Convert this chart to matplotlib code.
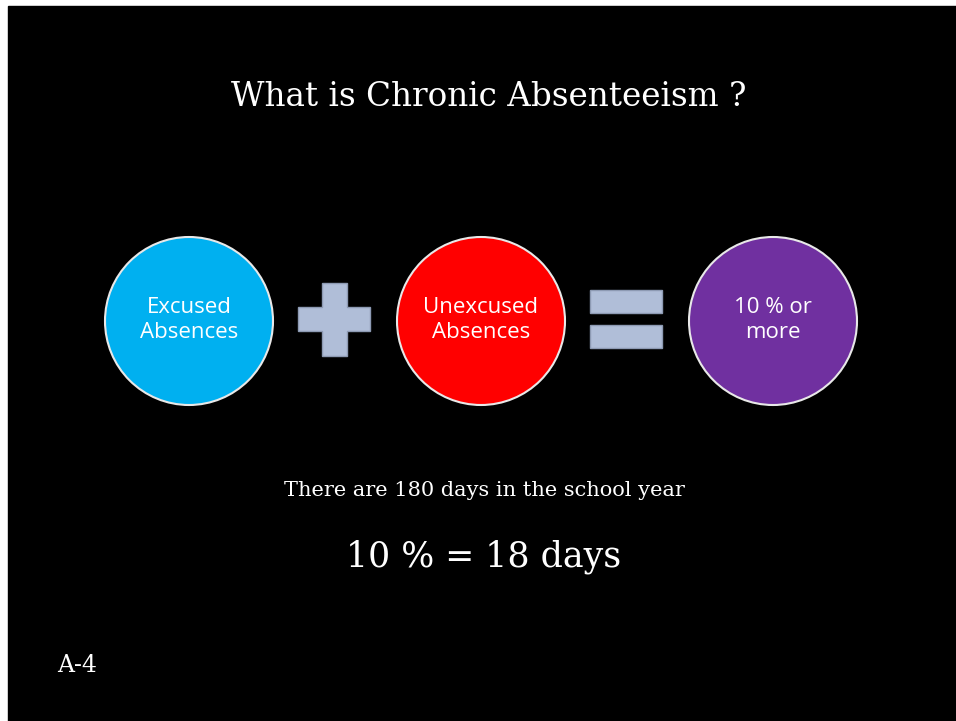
import matplotlib.pyplot as plt
from matplotlib.patches import Circle, Rectangle, Polygon

# slide content
title = "What is Chronic Absenteeism ?"
circle_labels = ["Excused\nAbsences", "Unexcused\nAbsences", "10 % or\nmore"]
circle_colors = ["#00B0F0", "#FF0000", "#7030A0"]
circle_centers = [189, 481, 773]
subtitle = "There are 180 days in the school year"
equation = "10 % = 18 days"
slide_id = "A-4"

W, H = 956, 721
shape_fill = "#B0BED8"
shape_edge = "#8D9AB3"


def main():
    fig = plt.figure(figsize=(W / 100, H / 100), dpi=100)
    fig.patch.set_facecolor("white")
    ax = fig.add_axes([0, 0, 1, 1])
    ax.set_xlim(0, W)
    ax.set_ylim(H, 0)
    ax.axis("off")

    # black slide (thin white strip left and top)
    ax.add_patch(Rectangle((8, 6), W - 8, H - 6, color="black", zorder=0))

    ax.text(489, 97, title, color="white", fontsize=23.5, family="DejaVu Serif",
            ha="center", va="center")

    for cx, lab, col in zip(circle_centers, circle_labels, circle_colors):
        ax.add_patch(Circle((cx, 321), 84, facecolor=col, edgecolor="#E8E8E8",
                            lw=1.5, zorder=2))
        ax.text(cx, 320, lab, color="white", fontsize=16, family="Open Sans",
                ha="center", va="center", linespacing=1.25, zorder=3)

    # plus sign as one outline
    plus = [(322, 283), (347, 283), (347, 307), (370, 307), (370, 331), (347, 331),
            (347, 356), (322, 356), (322, 331), (298, 331), (298, 307), (322, 307)]
    ax.add_patch(Polygon(plus, closed=True, facecolor=shape_fill,
                         edgecolor=shape_edge, lw=1, zorder=2))
    # equals sign
    ax.add_patch(Rectangle((590, 290), 72, 23, facecolor=shape_fill,
                           edgecolor=shape_edge, lw=1, zorder=2))
    ax.add_patch(Rectangle((590, 325), 72, 23, facecolor=shape_fill,
                           edgecolor=shape_edge, lw=1, zorder=2))

    ax.text(484, 490, subtitle, color="white", fontsize=15, family="DejaVu Serif",
            ha="center", va="center")
    ax.text(484, 557, equation, color="white", fontsize=25, family="DejaVu Serif",
            ha="center", va="center")
    ax.text(57, 666, slide_id, color="white", fontsize=17, family="DejaVu Serif",
            ha="left", va="center")

    plt.savefig("out.png", dpi=100, facecolor=fig.get_facecolor())


if __name__ == '__main__':
    main()
